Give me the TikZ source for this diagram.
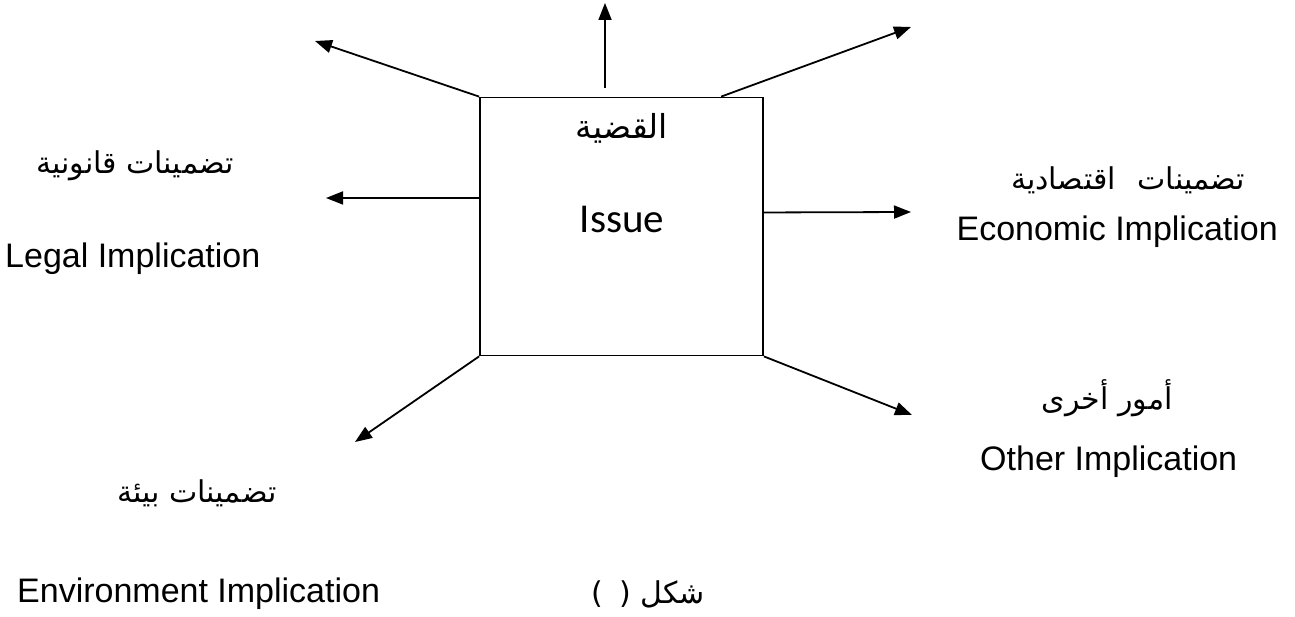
\documentclass[tikz,border=0pt]{standalone}
\usepackage{fontspec}
\setmainfont{Liberation Sans}
\newfontfamily\arabicfont[Script=Arabic]{DejaVu Sans}
\newfontfamily\issuefont{Carlito}
\usetikzlibrary{arrows.meta,calc}
\TeXXeTstate=1
\tikzset{
  link/.style={line width=1.8pt,-{Triangle[length=17pt,width=13pt]}},
  issuebox/.style={draw,line width=1.8pt,minimum width=283pt,minimum height=258pt,inner sep=0pt},
  latin/.style={font=\fontsize{34}{40}\selectfont,inner sep=0pt},
  arab/.style={font=\arabicfont\fontsize{30}{36}\selectfont,inner sep=0pt}
}
\begin{document}
\begin{tikzpicture}[x=1pt,y=-1pt]
  \useasboundingbox (0,0) rectangle (1295,617);
  % central box
  \node[issuebox] (box) at (621.5,226.5) {};
  \node[arab,font=\arabicfont\fontsize{33}{38}\selectfont] (issuear) at (622,128) {\beginR القضية\endR};
  \node[font=\issuefont\fontsize{41}{48}\selectfont,inner sep=0pt,anchor=base] (issue) at (622,233) {Issue};
  % arrow tips
  \coordinate (up0) at (605,88);
  \coordinate (upT) at (605,3);
  \coordinate (nwT) at (315,41);
  \coordinate (neT) at (911,27);
  \coordinate (wT) at (326,198);
  \coordinate (eT) at (911,212);
  \coordinate (swT) at (355,442);
  \coordinate (seT) at (912,415);
  % connectors
  \draw[link] (up0) -- (upT);
  \draw[link] (box.north west) -- (nwT);
  \draw[link] ($(box.north west)!0.85!(box.north east)$) -- (neT);
  \draw[link] ($(box.north west)!0.39!(box.south west)$) -- (wT);
  \draw[link] ($(box.north east)!0.446!(box.south east)$) -- (eT);
  \draw[link] (box.south west) -- (swT);
  \draw[link] (box.south east) -- (seT);
  % labels
  \node[arab] (legalar) at (135,166) {\beginR تضمينات قانونية\endR};
  \node[latin,anchor=base west] (legal) at (5,268) {Legal Implication};
  \node[arab] (econar) at (1128,180) {\beginR تضمينات\hspace{22pt}اقتصادية\endR};
  \node[latin,anchor=base east] (econ) at (1278,241) {Economic Implication};
  \node[arab] (otherar) at (1107,398) {\beginR أمور أخرى\endR};
  \node[latin,anchor=base west] (other) at (980,470) {Other Implication};
  \node[arab] (envar) at (197,493) {\beginR تضمينات بيئة\endR};
  \node[latin,anchor=base west] (env) at (17,602) {Environment Implication};
  \node[arab,anchor=base east] (fig) at (705,603) {\beginR شكل (\hspace{16pt})\endR};
\end{tikzpicture}
\end{document}
